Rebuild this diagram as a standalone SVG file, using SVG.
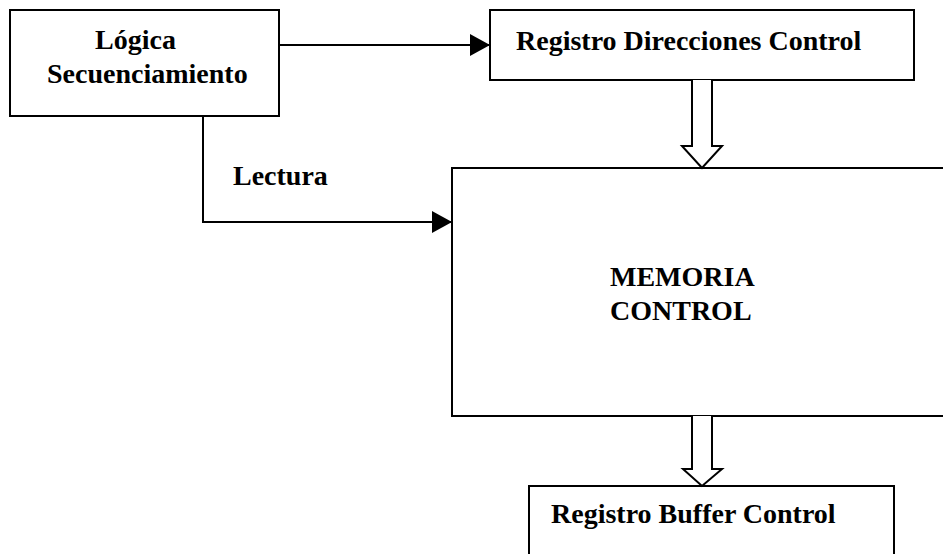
<svg xmlns="http://www.w3.org/2000/svg" width="943" height="554" viewBox="0 0 943 554">
  <style>
    .box { fill: #ffffff; stroke: #000000; stroke-width: 2; }
    .wire { fill: none; stroke: #000000; stroke-width: 2; }
    .bus { fill: #ffffff; stroke: #000000; stroke-width: 2; stroke-linejoin: miter; }
    .lbl { font-family: "Liberation Serif", "Times New Roman", serif; font-weight: bold; font-size: 28px; fill: #000000; }
  </style>
  <defs>
    <marker id="head" markerWidth="20" markerHeight="22" refX="20" refY="11" orient="auto" markerUnits="userSpaceOnUse">
      <path d="M0,0 L20,11 L0,22 Z" fill="#000000"/>
    </marker>
  </defs>
  <rect width="943" height="554" fill="#ffffff"/>

  <g id="logica">
    <rect class="box" x="10" y="10" width="269" height="106"/>
    <text class="lbl" x="95" y="49">Lógica</text>
    <text class="lbl" x="47" y="83">Secuenciamiento</text>
  </g>

  <g id="registro-direcciones">
    <rect class="box" x="490" y="10" width="424" height="70"/>
    <text class="lbl" x="516" y="50">Registro Direcciones Control</text>
  </g>

  <g id="memoria">
    <rect class="box" x="452" y="168" width="520" height="248"/>
    <text class="lbl" x="610" y="286">MEMORIA</text>
    <text class="lbl" x="610" y="320">CONTROL</text>
  </g>

  <g id="registro-buffer">
    <rect class="box" x="529" y="486" width="365" height="100"/>
    <text class="lbl" x="551" y="523">Registro Buffer Control</text>
  </g>

  <g id="connectors">
    <line class="wire" x1="279" y1="45" x2="490" y2="45" marker-end="url(#head)"/>
    <polyline class="wire" points="203,116 203,222 452,222" marker-end="url(#head)"/>
    <text class="lbl" x="233" y="185">Lectura</text>
    <path class="bus" d="M692,80 L692,146 L682,146 L702,168 L722,146 L712,146 L712,80"/>
    <path class="bus" d="M692,416 L692,469 L683,469 L702,486 L722,469 L712,469 L712,416"/>
  </g>
</svg>
